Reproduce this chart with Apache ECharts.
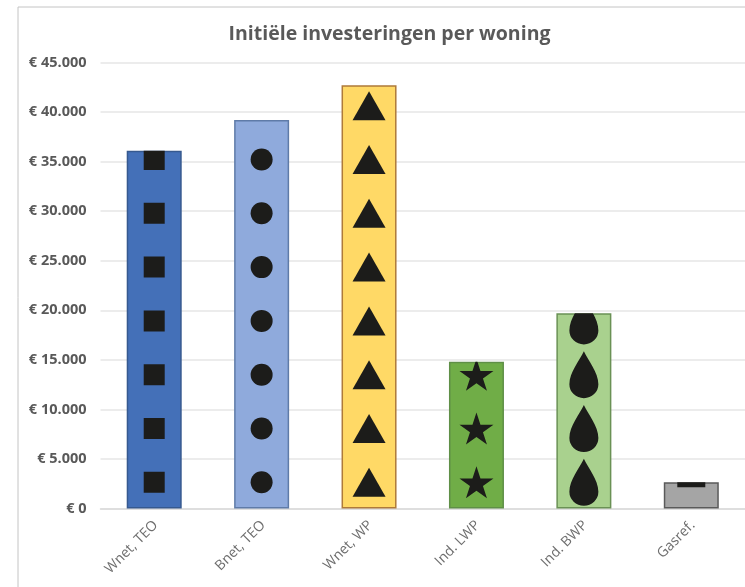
<!DOCTYPE html>
<html><head><meta charset="utf-8">
<style>html,body{margin:0;padding:0;background:#fff}#c{width:745px;height:587px}</style>
<script src="https://cdn.jsdelivr.net/npm/echarts@6/dist/echarts.min.js"></script>
</head><body><div id="c"></div>
<script>
const categories = ['Wnet, TEO','Bnet, TEO','Wnet, WP','Ind. LWP','Ind. BWP','Gasref.'];
const values = [36100,39200,42700,14800,19700,2650];
const fills = ['#4470B8','#8FAADC','#FFD966','#70AD47','#A9D18E','#A5A5A5'];
const borders = ['#36598F','#5F7BA8','#AE7A3A','#5F8F47','#6A9155','#5A5A5A'];
const star='path://M50 0 L61.8 36.3 L100 36.3 L69.1 58.8 L80.9 95.1 L50 72.6 L19.1 95.1 L30.9 58.8 L0 36.3 L38.2 36.3 Z';
const drop='path://M14 0 C10 9 0 21 0 33 A14 14 0 0 0 28 33 C28 21 18 9 14 0 Z';
const symbols = ['rect','circle','triangle',star,drop,'rect'];
const symbolSizes = [[21,21],[22,22],[33,29],[34,32],[29,47],[28,10]];
const tileTop = 43426;
const chart = echarts.init(document.getElementById('c'),null,{renderer:'canvas'});
const pict = categories.map((c,i)=>({
  type:'pictorialBar',xAxisIndex:0,yAxisIndex:0,z:5,
  symbol:symbols[i],symbolSize:symbolSizes[i],
  symbolRepeat:8,symbolClip:true,symbolBoundingData:tileTop,
  symbolMargin:'1!',symbolOffset:[0,0.7],
  barWidth:55,
  itemStyle:{color:'#1C1C1A'},
  data:categories.map((_,j)=>j===i?values[i]:null),
  silent:true
}));
chart.setOption({
  animation:false,
  backgroundColor:'#fff',
  title:{text:'Initiële investeringen per woning',left:384.5,top:19,textAlign:'center',
    textStyle:{fontFamily:'Open Sans',fontSize:19.5,fontWeight:'bold',color:'#595959'}},
  graphic:[{type:'rect',shape:{x:18,y:7,width:800,height:700},style:{fill:'none',stroke:'#C4C4C4',lineWidth:1}}],
  grid:{left:100.5,right:-1,top:62.5,bottom:78.5},
  xAxis:{type:'category',data:categories,
    axisLine:{lineStyle:{color:'#D9D9D9',width:1.5}},axisTick:{show:false},
    axisLabel:{rotate:45,interval:0,margin:16,padding:[0,-2,2,0],fontFamily:'Open Sans',fontSize:14,color:'#6E6E6E'}},
  yAxis:{type:'value',min:0,max:45000,interval:5000,
    axisLine:{show:false},axisTick:{show:false},
    splitLine:{lineStyle:{color:'#E6E6E6',width:1.5}},
    axisLabel:{margin:14,padding:[3,0,0,0],fontFamily:'Open Sans',fontSize:14.5,fontWeight:'bold',color:'#595959',
      formatter:v=>'€ '+(v===0?'0':String(v).replace(/(\d)(\d{3})$/,'$1.$2'))}},
  series:[{type:'bar',z:2,barWidth:55,barGap:'-100%',silent:true,
    data:values.map((v,i)=>({value:v,itemStyle:{color:fills[i],borderColor:borders[i],borderWidth:1.5}}))},
    ...pict]
});
</script></body></html>
